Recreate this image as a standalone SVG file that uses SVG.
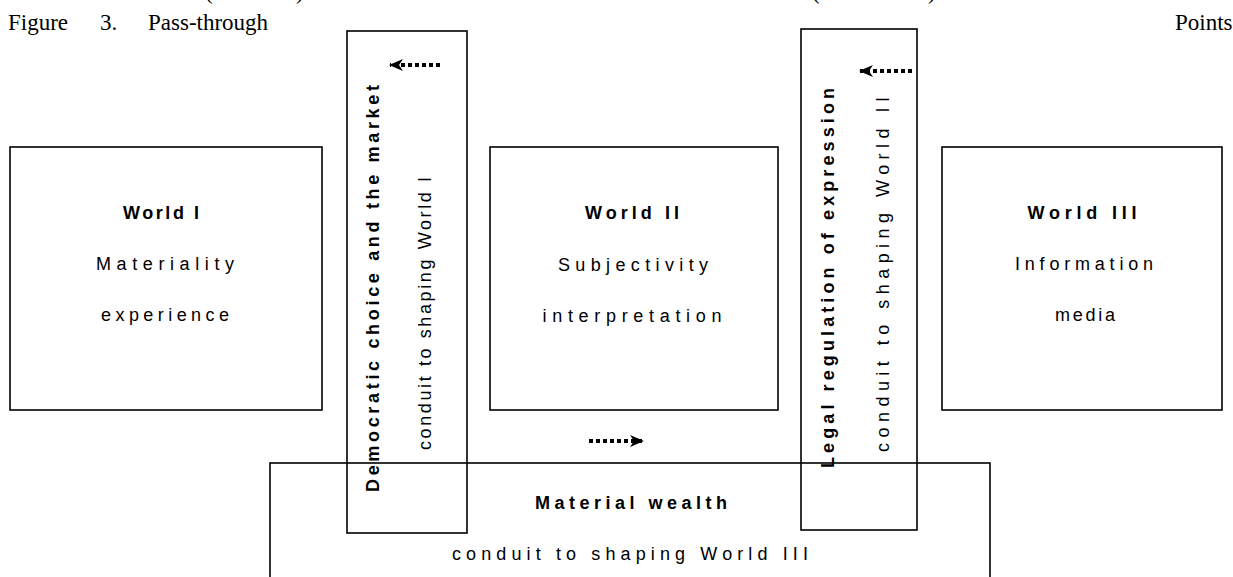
<svg xmlns="http://www.w3.org/2000/svg" width="1233" height="577" viewBox="0 0 1233 577">
<style>
.box{fill:none;stroke:#000;stroke-width:1.6}
.t{font-family:"Liberation Sans",Arial,sans-serif;font-size:18px;fill:#000}
.b{font-weight:bold}
.cap{font-family:"Liberation Serif","Times New Roman",serif;font-size:23px;fill:#000}
.dot{stroke:#000;stroke-width:4;stroke-dasharray:4 3;fill:none}
</style>
<defs>
<marker id="ah" viewBox="0 0 14 12" refX="13" refY="6" markerWidth="14" markerHeight="12" markerUnits="userSpaceOnUse" orient="auto">
<path d="M0,0 L14,6 L0,12 L4,6 Z" fill="#000"/>
</marker>
</defs>
<g id="caption">
<text class="cap" x="205" y="-1">(</text>
<text class="cap" x="296" y="-1">)</text>
<text class="cap" x="812" y="-1">(</text>
<text class="cap" x="928" y="-1">)</text>
<text class="cap" x="8" y="30">Figure</text>
<text class="cap" x="100" y="30">3.</text>
<text class="cap" x="148" y="30">Pass-through</text>
<text class="cap" x="1175" y="30">Points</text>
</g>
<g id="world1">
<rect class="box" x="10" y="147" width="312" height="263"/>
<text class="t b" x="161" y="219" text-anchor="middle" textLength="76" lengthAdjust="spacing">World I</text>
<text class="t" x="165" y="270" text-anchor="middle" textLength="138" lengthAdjust="spacing">Materiality</text>
<text class="t" x="165" y="321" text-anchor="middle" textLength="128" lengthAdjust="spacing">experience</text>
</g>
<g id="world2">
<rect class="box" x="490" y="147" width="288" height="263"/>
<text class="t b" x="632" y="219" text-anchor="middle" textLength="94" lengthAdjust="spacing">World II</text>
<text class="t" x="633" y="271" text-anchor="middle" textLength="150" lengthAdjust="spacing">Subjectivity</text>
<text class="t" x="632" y="322" text-anchor="middle" textLength="179" lengthAdjust="spacing">interpretation</text>
</g>
<g id="world3">
<rect class="box" x="942" y="147" width="280" height="263"/>
<text class="t b" x="1082" y="219" text-anchor="middle" textLength="109" lengthAdjust="spacing">World III</text>
<text class="t" x="1084" y="270" text-anchor="middle" textLength="138" lengthAdjust="spacing">Information</text>
<text class="t" x="1085" y="321" text-anchor="middle" textLength="60" lengthAdjust="spacing">media</text>
</g>
<g id="material">
<rect class="box" x="270" y="463" width="720" height="130"/>
<text class="t b" x="631" y="509" text-anchor="middle" textLength="192" lengthAdjust="spacing">Material wealth</text>
<text class="t" x="630" y="560" text-anchor="middle" textLength="356" lengthAdjust="spacing">conduit to shaping World III</text>
</g>
<g id="democratic">
<rect class="box" x="347" y="31" width="120" height="502"/>
<text class="t b" transform="translate(379,492) rotate(-90)" textLength="407" lengthAdjust="spacing">Democratic choice and the market</text>
<text class="t" transform="translate(431,450) rotate(-90)" textLength="273" lengthAdjust="spacing">conduit to shaping World I</text>
</g>
<g id="legal">
<rect class="box" x="801" y="29" width="116" height="501"/>
<text class="t b" transform="translate(834,468) rotate(-90)" textLength="380" lengthAdjust="spacing">Legal regulation of expression</text>
<text class="t" transform="translate(889,452) rotate(-90)" textLength="355" lengthAdjust="spacing">conduit to shaping World II</text>
</g>
<g id="connectors">
<path class="dot" d="M440,65 L390,65" marker-end="url(#ah)"/>
<path class="dot" d="M912,71 L860,71" marker-end="url(#ah)"/>
<path class="dot" d="M589,441 L643,441" marker-end="url(#ah)"/>
</g>
</svg>
